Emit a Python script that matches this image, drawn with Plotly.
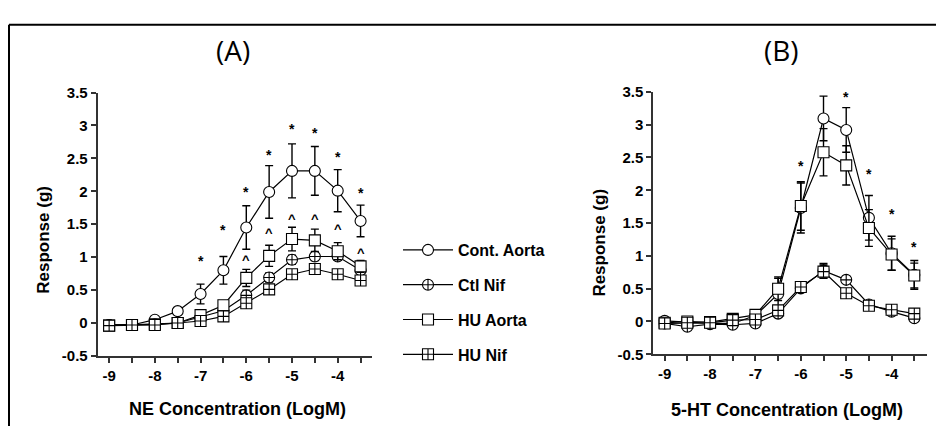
import plotly.graph_objects as go

# Browser body has an 8px default margin; design in window pixels and shift.
OFF = 8
W, H = 944 - OFF, 434 - OFF

conc = [-9, -8.5, -8, -7.5, -7, -6.5, -6, -5.5, -5, -4.5, -4, -3.5]
series_names = ["Cont. Aorta", "Ctl Nif", "HU Aorta", "HU Nif"]

# Panel A (NE)
ne_cont = [-0.03, -0.03, 0.05, 0.18, 0.44, 0.80, 1.45, 1.99, 2.31, 2.31, 2.01, 1.55]
ne_cont_err = [0.02, 0.02, 0.03, 0.05, 0.15, 0.21, 0.33, 0.40, 0.41, 0.37, 0.32, 0.24]
ne_ctlnif = [-0.03, -0.03, -0.02, 0.00, 0.09, 0.185, 0.42, 0.69, 0.96, 1.01, 1.01, 0.80]
ne_ctlnif_err = [0.01, 0.01, 0.01, 0.02, 0.03, 0.04, 0.08, 0.07, 0.07, 0.06, 0.05, 0.05]
ne_hu = [-0.04, -0.03, -0.02, 0.00, 0.12, 0.27, 0.685, 1.02, 1.275, 1.255, 1.09, 0.86]
ne_hu_err = [0.01, 0.01, 0.01, 0.02, 0.04, 0.07, 0.13, 0.16, 0.18, 0.17, 0.13, 0.09]
ne_hunif = [-0.04, -0.03, -0.03, 0.00, 0.03, 0.10, 0.30, 0.51, 0.74, 0.82, 0.74, 0.645]
ne_hunif_err = [0.01, 0.01, 0.01, 0.01, 0.02, 0.03, 0.05, 0.05, 0.05, 0.04, 0.04, 0.04]

ne_star_x = [-7, -6.5, -6, -5.5, -5, -4.5, -4, -3.5]
ne_star_y = [0.99, 1.46, 2.03, 2.59, 2.99, 2.93, 2.57, 2.02]
ne_caret_x = [-6, -5.5, -5, -4.5, -4, -3.5]
ne_caret_y = [1.00, 1.40, 1.61, 1.61, 1.46, 1.10]

# Panel B (5-HT)
ht_cont = [0.01, -0.01, -0.03, -0.03, 0.09, 0.42, 1.73, 3.095, 2.92, 1.58, 1.04, 0.71]
ht_cont_err = [0.02, 0.02, 0.02, 0.03, 0.04, 0.24, 0.38, 0.34, 0.34, 0.34, 0.26, 0.22]
ht_ctlnif = [-0.03, -0.08, -0.04, -0.05, -0.03, 0.12, 0.505, 0.775, 0.635, 0.26, 0.15, 0.05]
ht_ctlnif_err = [0.01, 0.01, 0.01, 0.01, 0.02, 0.04, 0.05, 0.11, 0.05, 0.04, 0.03, 0.02]
ht_hu = [-0.02, 0.00, -0.01, 0.04, 0.10, 0.50, 1.76, 2.58, 2.38, 1.425, 1.02, 0.70]
ht_hu_err = [0.02, 0.02, 0.02, 0.03, 0.05, 0.18, 0.37, 0.36, 0.30, 0.28, 0.24, 0.19]
ht_hunif = [-0.03, -0.02, -0.02, 0.02, 0.03, 0.17, 0.525, 0.76, 0.43, 0.24, 0.18, 0.12]
ht_hunif_err = [0.01, 0.01, 0.01, 0.01, 0.02, 0.04, 0.05, 0.10, 0.04, 0.03, 0.03, 0.02]

ht_star_x = [-6, -5.5, -5, -4.5, -4, -3.5]
ht_star_y = [2.41, 3.70, 3.47, 2.29, 1.68, 1.18]

y_ticks = [-0.5, 0, 0.5, 1, 1.5, 2, 2.5, 3, 3.5]
y_ticktext = ["-0.5", "0", "0.5", "1", "1.5", "2", "2.5", "3", "3.5"]
x_ticks = [-9, -8.5, -8, -7.5, -7, -6.5, -6, -5.5, -5, -4.5, -4, -3.5]
x_ticktext = ["-9", "", "-8", "", "-7", "", "-6", "", "-5", "", "-4", ""]

symbols = ["circle", "circle-cross", "square", "square-cross"]

FONT = "Liberation Sans, Arial, sans-serif"


def px(xp):
    return (xp - OFF) / W


def py(yp):
    return 1 - (yp - OFF) / H


fig = go.Figure()

panel_a = [(ne_cont, ne_cont_err), (ne_ctlnif, ne_ctlnif_err), (ne_hu, ne_hu_err), (ne_hunif, ne_hunif_err)]
panel_b = [(ht_cont, ht_cont_err), (ht_ctlnif, ht_ctlnif_err), (ht_hu, ht_hu_err), (ht_hunif, ht_hunif_err)]

for i, (vals, errs) in enumerate(panel_a):
    fig.add_trace(go.Scatter(
        x=conc, y=vals, mode="lines+markers", name=series_names[i],
        legendgroup=series_names[i], showlegend=True,
        line=dict(color="black", width=1.2),
        marker=dict(symbol=symbols[i], size=11, color="white", line=dict(color="black", width=1.1)),
        error_y=dict(type="data", array=errs, visible=True, color="black", thickness=1.4, width=4),
        xaxis="x", yaxis="y", cliponaxis=False))

for i, (vals, errs) in enumerate(panel_b):
    fig.add_trace(go.Scatter(
        x=conc, y=vals, mode="lines+markers", name=series_names[i],
        legendgroup=series_names[i], showlegend=False,
        line=dict(color="black", width=1.2),
        marker=dict(symbol=symbols[i], size=11, color="white", line=dict(color="black", width=1.1)),
        error_y=dict(type="data", array=errs, visible=True, color="black", thickness=1.4, width=4),
        xaxis="x2", yaxis="y2", cliponaxis=False))

annotations = []
for xv, yv in zip(ne_star_x, ne_star_y):
    annotations.append(dict(x=xv, y=yv, xref="x", yref="y", text="*", showarrow=False,
                            font=dict(family=FONT, size=14, color="black", weight="bold"), yshift=-3))
for xv, yv in zip(ne_caret_x, ne_caret_y):
    annotations.append(dict(x=xv, y=yv, xref="x", yref="y", text="^", showarrow=False,
                            font=dict(family=FONT, size=13, color="black", weight="bold"), yshift=-2))
for xv, yv in zip(ht_star_x, ht_star_y):
    annotations.append(dict(x=xv, y=yv, xref="x2", yref="y2", text="*", showarrow=False,
                            font=dict(family=FONT, size=14, color="black", weight="bold"), yshift=-3))

annotations += [
    dict(x=px(233), y=py(42), xref="paper", yref="paper", text="(A)", showarrow=False,
         font=dict(family="Open Sans, sans-serif", size=28, color="black"), xanchor="center", yanchor="middle"),
    dict(x=px(781), y=py(42), xref="paper", yref="paper", text="(B)", showarrow=False,
         font=dict(family="Open Sans, sans-serif", size=28, color="black"), xanchor="center", yanchor="middle"),
    dict(x=px(237), y=py(416), xref="paper", yref="paper", text="NE Concentration (LogM)", showarrow=False,
         font=dict(family=FONT, size=18, color="black", weight="bold"), xanchor="center", yanchor="middle"),
    dict(x=px(787), y=py(417), xref="paper", yref="paper", text="5-HT Concentration (LogM)", showarrow=False,
         font=dict(family=FONT, size=18, color="black", weight="bold"), xanchor="center", yanchor="middle"),
    dict(x=px(44), y=py(240), xref="paper", yref="paper", text="Response (g)", showarrow=False, textangle=-90,
         font=dict(family=FONT, size=17, color="black", weight="bold"), xanchor="center", yanchor="middle"),
    dict(x=px(600), y=py(243), xref="paper", yref="paper", text="Response (g)", showarrow=False, textangle=-90,
         font=dict(family=FONT, size=17, color="black", weight="bold"), xanchor="center", yanchor="middle"),
]

axis_common = dict(showline=True, linecolor="#333333", linewidth=2, ticks="outside", ticklen=5,
                   tickwidth=1.5, tickcolor="#333333", showgrid=False, zeroline=False,
                   tickfont=dict(family=FONT, size=15, color="black", weight="bold"))

fig.update_layout(
    width=W, height=H,
    margin=dict(l=0, r=0, t=0, b=0),
    paper_bgcolor="white", plot_bgcolor="white",
    showlegend=True,
    legend=dict(x=px(398), y=py(233), xanchor="left", yanchor="top",
                font=dict(family=FONT, size=16, color="black", weight="bold"),
                tracegroupgap=11, bgcolor="rgba(0,0,0,0)", itemwidth=50),
    xaxis=dict(domain=[px(97.7), px(372)], range=[-9.25, -3.25], tickvals=x_ticks, ticktext=x_ticktext,
               anchor="y", **axis_common),
    yaxis=dict(domain=[py(361), py(86.7)], range=[-0.5, 3.5], tickvals=y_ticks, ticktext=y_ticktext,
               anchor="x", **axis_common),
    xaxis2=dict(domain=[px(653.3), px(927)], range=[-9.25, -3.22], tickvals=x_ticks, ticktext=x_ticktext,
                anchor="y2", **axis_common),
    yaxis2=dict(domain=[py(359.3), py(86)], range=[-0.5, 3.5], tickvals=y_ticks, ticktext=y_ticktext,
                anchor="x2", **axis_common),
    annotations=annotations,
    shapes=[
        dict(type="line", xref="paper", yref="paper", x0=px(9), x1=1, y0=py(16), y1=py(16),
             line=dict(color="black", width=2)),
        dict(type="line", xref="paper", yref="paper", x0=px(9), x1=px(9), y0=py(16), y1=0,
             line=dict(color="black", width=2)),
    ],
)

fig.write_html("out.html")
